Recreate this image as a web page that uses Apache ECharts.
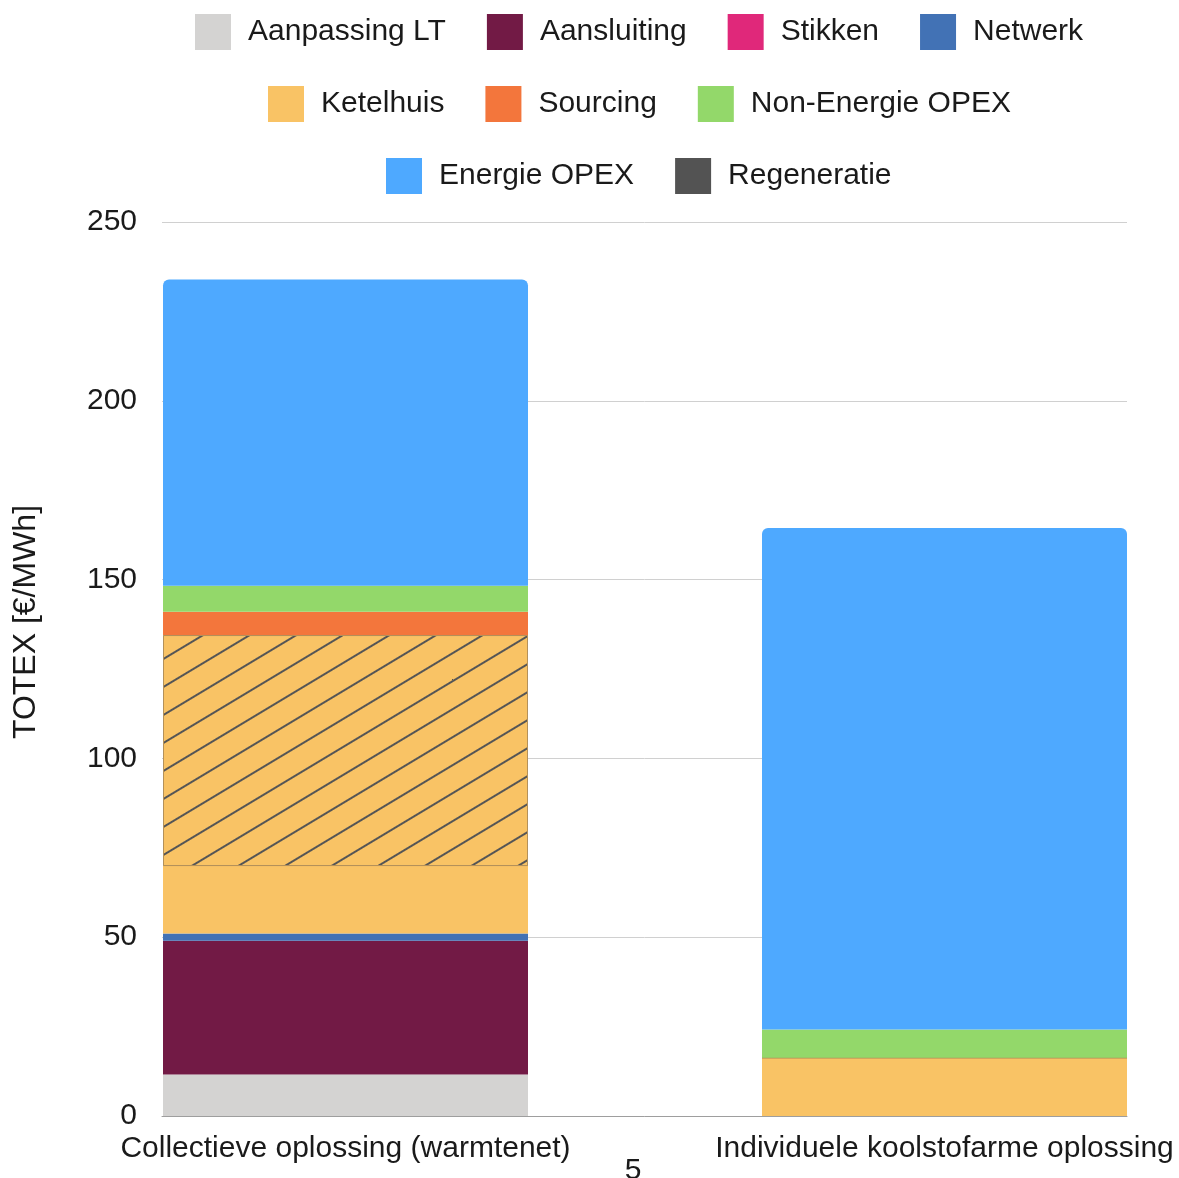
<!DOCTYPE html>
<html><head><meta charset="utf-8">
<script src="https://cdn.jsdelivr.net/npm/echarts@6/dist/echarts.min.js"></script>
<style>html,body{margin:0;padding:0;background:#fff}#c{width:1179px;height:1178px}</style>
</head><body><div id="c"></div>
<script>
const categories = ['Collectieve oplossing (warmtenet)', 'Individuele koolstofarme oplossing'];
const aanpassingLT     = [11.6, 0];
const aansluiting      = [37.4, 0];
const stikken          = [0, 0];
const netwerk          = [2.0, 0];
const ketelhuis        = [18.9, 16.3];
const ketelhuisHatched = [64.6, 0];
const sourcing         = [6.5, 0];
const nonEnergieOpex   = [7.3, 7.9];
const energieOpex      = [85.6, 140.2];
const regeneratie      = [0, 0];
const yMin = 0, yMax = 250, yStep = 50;
const yTitle = 'TOTEX [€/MWh]';
const pageNumber = '5';

const FONT = '"Liberation Sans", Arial, sans-serif';
const TXT = '#1a1a1a';

function bar(name, values, color, extra) {
  return Object.assign({
    name: name,
    type: 'bar',
    stack: 'total',
    xAxisIndex: 1,
    yAxisIndex: 1,
    barWidth: 365,
    data: values,
    itemStyle: { color: color },
    emphasis: { disabled: true }
  }, extra || {});
}

const series = [
  bar('Aanpassing LT', aanpassingLT, '#d4d3d2'),
  bar('Aansluiting', aansluiting, '#721a45'),
  bar('Stikken', stikken, '#e0287a'),
  bar('Netwerk', netwerk, '#4272b5'),
  bar('Ketelhuis', ketelhuis, '#f9c365'),
  bar('Ketelhuis (arcering)', ketelhuisHatched, '#f9c365', {
    itemStyle: {
      color: '#f9c365',
      borderColor: '#b4915a',
      borderWidth: 1,
      decal: {
        symbol: 'rect',
        symbolSize: 1,
        dashArrayX: [1, 0],
        dashArrayY: [1.5, 22],
        rotation: -31 * Math.PI / 180,
        color: '#555555'
      }
    }
  }),
  bar('Sourcing', sourcing, '#f3763c'),
  bar('Non-Energie OPEX', nonEnergieOpex, '#93d86a'),
  bar('Energie OPEX', energieOpex, '#4ea9ff', {
    itemStyle: { color: '#4ea9ff', borderRadius: [6, 6, 0, 0] }
  }),
  bar('Regeneratie', regeneratie, '#535353')
];

const legendCommon = {
  itemWidth: 36,
  itemHeight: 36,
  itemGap: 41,
  padding: 0,
  icon: 'rect',
  selectedMode: false,
  textStyle: { fontSize: 30, color: TXT, fontFamily: FONT, padding: [3, 0, 0, 12] }
};

const option = {
  animation: false,
  backgroundColor: '#ffffff',
  legend: [
    Object.assign({ data: ['Aanpassing LT', 'Aansluiting', 'Stikken', 'Netwerk'], left: 195, top: 14 }, legendCommon),
    Object.assign({ data: ['Ketelhuis', 'Sourcing', 'Non-Energie OPEX'], left: 268, top: 86 }, legendCommon),
    Object.assign({ data: ['Energie OPEX', 'Regeneratie'], left: 386, top: 158 }, legendCommon)
  ],
  grid: [
    { left: 162, right: 52, top: 222, bottom: 62, containLabel: false, outerBoundsMode: 'none' },
    { left: 46, width: 1198, top: 222, bottom: 62, containLabel: false, outerBoundsMode: 'none' }
  ],
  xAxis: [
    {
      gridIndex: 0,
      type: 'category',
      data: categories,
      axisTick: { show: false },
      axisLabel: { show: false },
      splitLine: { show: false },
      axisLine: { show: true, lineStyle: { color: '#9e9e9e', width: 1 } }
    },
    {
      gridIndex: 1,
      type: 'category',
      data: categories,
      axisTick: { show: false },
      axisLine: { show: false },
      splitLine: { show: false },
      axisLabel: { fontSize: 30, color: TXT, fontFamily: FONT, margin: 18, interval: 0 }
    }
  ],
  yAxis: [
    {
      gridIndex: 0,
      type: 'value',
      min: yMin, max: yMax, interval: yStep,
      axisLine: { show: false },
      axisTick: { show: false },
      splitLine: { lineStyle: { color: '#d0d0d0', width: 1 } },
      axisLabel: { fontSize: 30, color: TXT, fontFamily: FONT, margin: 25, padding: [6, 0, 0, 0] }
    },
    {
      gridIndex: 1,
      type: 'value',
      min: yMin, max: yMax, interval: yStep,
      show: false,
      splitLine: { show: false }
    }
  ],
  graphic: [
    {
      type: 'text',
      x: 26, y: 622,
      rotation: Math.PI / 2,
      style: { text: yTitle, fontSize: 32, fill: TXT, fontFamily: FONT, align: 'center', verticalAlign: 'middle' }
    },
    {
      type: 'text',
      x: 633, y: 1171,
      style: { text: pageNumber, fontSize: 30, fill: TXT, fontFamily: FONT, align: 'center', verticalAlign: 'middle' }
    }
  ],
  series: series
};

const chart = echarts.init(document.getElementById('c'), null, { renderer: 'canvas' });
chart.setOption(option);
</script>
</body></html>
